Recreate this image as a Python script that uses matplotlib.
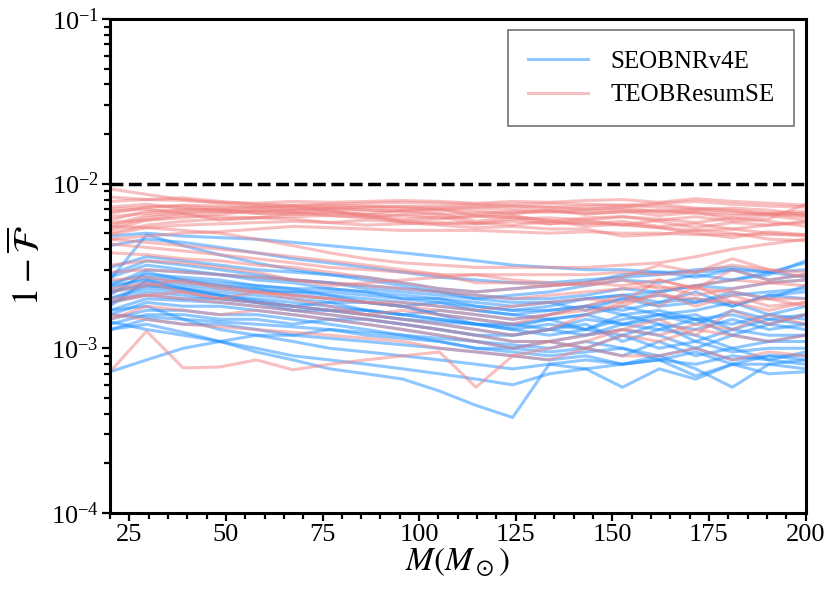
import numpy as np
import matplotlib
matplotlib.use("Agg")
import matplotlib.pyplot as plt
from matplotlib.ticker import MultipleLocator

plt.rcParams['font.family'] = 'serif'
plt.rcParams['font.serif'] = ['Liberation Serif', 'DejaVu Serif']
plt.rcParams['mathtext.fontset'] = 'stix'

# total mass grid
M = np.linspace(20, 200, 20)

# 1 - mismatch, in units of 1e-3
seob = [
    [4.8, 5.0, 4.8, 4.7, 4.6, 4.4, 4.2, 4.0, 3.8, 3.6, 3.4, 3.2, 3.1, 3.0, 3.0, 2.9, 2.9, 3.0, 2.9, 3.0],
    [4.2, 4.6, 4.4, 4.1, 3.8, 3.5, 3.3, 3.1, 2.9, 2.7, 2.6, 2.5, 2.5, 2.6, 2.7, 2.8, 3.0, 3.1, 2.9, 3.3],
    [2.6, 4.9, 4.2, 3.7, 3.3, 3.0, 2.8, 2.6, 2.4, 2.2, 2.0, 1.9, 1.9, 2.0, 2.1, 2.2, 2.4, 2.6, 2.8, 3.4],
    [2.4, 3.0, 2.9, 2.8, 2.7, 2.6, 2.5, 2.4, 2.3, 2.2, 2.1, 2.0, 2.0, 2.1, 2.3, 2.2, 2.4, 2.3, 2.5, 2.6],
    [2.3, 2.7, 2.6, 2.5, 2.4, 2.3, 2.3, 2.2, 2.1, 2.0, 1.8, 1.7, 1.7, 1.8, 2.0, 2.1, 1.9, 2.2, 2.0, 2.4],
    [2.2, 2.5, 2.4, 2.3, 2.2, 2.2, 2.1, 2.0, 1.9, 1.8, 1.7, 1.6, 1.7, 1.8, 1.7, 1.9, 2.0, 1.8, 2.1, 2.2],
    [2.1, 2.9, 2.6, 2.4, 2.3, 2.1, 2.0, 1.9, 1.8, 1.6, 1.5, 1.4, 1.5, 1.6, 1.8, 1.6, 1.7, 1.9, 1.6, 1.8],
    [2.0, 2.3, 2.2, 2.1, 2.0, 1.9, 1.8, 1.7, 1.6, 1.5, 1.4, 1.3, 1.4, 1.3, 1.5, 1.6, 1.4, 1.7, 1.5, 1.6],
    [1.9, 2.1, 2.0, 2.0, 1.9, 1.8, 1.7, 1.7, 1.6, 1.5, 1.4, 1.4, 1.3, 1.5, 1.4, 1.6, 1.5, 1.4, 1.6, 1.5],
    [1.8, 2.6, 2.3, 2.1, 1.9, 1.7, 1.6, 1.5, 1.4, 1.3, 1.2, 1.2, 1.3, 1.2, 1.4, 1.3, 1.5, 1.2, 1.4, 1.3],
    [2.5, 2.8, 2.7, 2.6, 2.4, 2.3, 2.1, 1.9, 1.8, 1.6, 1.4, 1.3, 1.2, 1.3, 1.2, 1.4, 1.1, 1.3, 1.2, 1.2],
    [2.7, 3.2, 3.0, 2.8, 2.6, 2.5, 2.3, 2.2, 2.0, 1.9, 1.7, 1.6, 1.5, 1.6, 1.4, 1.5, 1.6, 1.3, 1.5, 1.4],
    [1.6, 1.9, 1.8, 1.8, 1.7, 1.6, 1.5, 1.5, 1.4, 1.3, 1.2, 1.1, 1.1, 1.2, 1.3, 1.2, 1.0, 1.2, 1.1, 1.2],
    [1.5, 1.7, 1.7, 1.6, 1.6, 1.5, 1.4, 1.3, 1.2, 1.1, 1.0, 1.0, 1.1, 1.0, 1.2, 1.0, 1.1, 0.95, 1.0, 1.0],
    [1.4, 1.6, 1.6, 1.5, 1.5, 1.4, 1.5, 1.4, 1.3, 1.2, 1.1, 1.0, 0.95, 1.0, 0.9, 1.1, 0.9, 1.0, 0.85, 0.95],
    [1.6, 1.55, 1.5, 1.45, 1.4, 1.35, 1.3, 1.25, 1.2, 1.15, 1.1, 1.05, 1.0, 1.1, 1.0, 0.9, 1.0, 0.85, 0.9, 0.9],
    [1.7, 1.8, 1.5, 1.3, 1.2, 1.1, 1.0, 0.95, 0.9, 0.85, 0.8, 0.75, 0.8, 0.85, 0.8, 0.9, 0.75, 0.58, 0.8, 0.85],
    [0.72, 0.85, 1.0, 1.1, 1.2, 1.2, 1.15, 1.1, 1.05, 1.0, 0.95, 0.9, 0.85, 0.9, 0.8, 0.85, 0.68, 0.8, 0.8, 0.75],
    [1.45, 1.3, 1.2, 1.1, 1.0, 0.9, 0.85, 0.8, 0.75, 0.7, 0.65, 0.6, 0.7, 0.75, 0.58, 0.75, 0.65, 0.8, 0.7, 0.72],
    [1.3, 1.4, 1.25, 1.1, 0.95, 0.85, 0.75, 0.7, 0.65, 0.55, 0.45, 0.38, 0.8, 0.75, 0.8, 0.85, 0.8, 0.9, 0.85, 0.8],
    [2.8, 3.4, 3.2, 3.0, 2.8, 2.6, 2.5, 2.3, 2.2, 2.1, 2.0, 2.1, 2.2, 2.4, 2.6, 2.5, 2.8, 2.6, 2.9, 2.7],
    [3.1, 3.6, 3.4, 3.2, 3.0, 2.9, 2.8, 2.7, 2.5, 2.3, 2.2, 2.3, 2.4, 2.5, 2.8, 2.9, 2.7, 3.0, 2.6, 2.8],
    [2.2, 2.4, 2.3, 2.2, 2.1, 2.0, 1.9, 1.9, 1.8, 1.9, 1.8, 1.7, 1.8, 2.0, 2.1, 1.9, 2.2, 1.8, 2.1, 2.0],
    [1.9, 2.2, 2.1, 2.0, 1.9, 1.8, 1.9, 1.7, 1.6, 1.7, 1.6, 1.5, 1.6, 1.8, 1.6, 1.7, 1.5, 1.6, 1.4, 1.6],
    [1.7, 2.0, 1.95, 1.9, 1.8, 1.7, 1.7, 1.6, 1.5, 1.4, 1.3, 1.2, 1.3, 1.4, 1.1, 1.3, 1.2, 1.0, 1.1, 1.1],
    [2.4, 2.6, 2.5, 2.4, 2.3, 2.2, 2.2, 2.1, 2.0, 2.0, 1.9, 1.8, 1.9, 1.7, 2.0, 1.8, 1.9, 2.1, 2.2, 2.3],
    [1.3, 1.5, 1.4, 1.4, 1.3, 1.2, 1.3, 1.2, 1.15, 1.1, 1.0, 0.95, 0.9, 0.95, 1.0, 0.85, 0.95, 0.8, 0.9, 0.85],
    [2.0, 2.4, 2.3, 2.1, 1.95, 1.8, 1.7, 1.6, 1.5, 1.45, 1.4, 1.35, 1.5, 1.3, 1.6, 1.4, 1.3, 1.5, 1.3, 1.4],
]

teob = [
    [9.3, 8.6, 8.0, 7.6, 7.4, 7.3, 7.2, 7.2, 7.3, 7.3, 7.4, 7.3, 7.2, 7.3, 7.4, 7.2, 7.0, 7.1, 6.9, 6.5],
    [7.8, 8.0, 8.2, 7.8, 7.5, 7.4, 7.5, 7.6, 7.7, 7.6, 7.5, 7.5, 7.6, 7.5, 7.4, 7.6, 7.8, 7.5, 7.3, 7.2],
    [6.6, 7.2, 7.4, 7.3, 7.2, 7.0, 7.1, 7.2, 7.1, 7.0, 7.1, 7.0, 6.9, 7.0, 7.1, 6.8, 7.0, 6.8, 6.5, 6.3],
    [6.0, 6.8, 7.0, 6.9, 6.8, 6.9, 7.0, 6.9, 6.8, 6.9, 6.8, 6.6, 6.8, 6.6, 6.7, 6.9, 6.6, 6.4, 6.6, 6.8],
    [5.6, 6.4, 6.7, 6.8, 6.6, 6.5, 6.6, 6.5, 6.4, 6.2, 6.3, 6.4, 5.9, 6.2, 6.3, 6.1, 5.8, 6.2, 5.9, 5.5],
    [5.2, 6.0, 6.4, 6.3, 6.2, 6.3, 6.4, 6.3, 6.1, 6.3, 5.7, 6.1, 6.2, 6.0, 5.6, 6.0, 6.3, 5.9, 6.1, 7.5],
    [5.0, 5.6, 5.9, 6.1, 6.2, 6.1, 5.8, 6.0, 5.9, 5.7, 5.8, 5.6, 5.9, 5.7, 5.9, 5.5, 5.7, 5.3, 5.6, 5.8],
    [4.9, 5.4, 5.6, 5.7, 5.8, 5.9, 5.8, 5.6, 5.7, 5.8, 5.7, 5.9, 5.7, 5.8, 5.6, 5.4, 5.2, 5.3, 5.0, 4.8],
    [7.2, 7.5, 7.1, 6.9, 7.1, 7.3, 6.8, 6.5, 6.9, 7.0, 6.4, 6.6, 6.9, 6.5, 6.8, 6.4, 6.7, 6.1, 6.4, 6.0],
    [8.3, 8.0, 7.9, 7.7, 7.6, 7.8, 7.7, 7.8, 7.9, 7.8, 7.6, 7.8, 7.7, 7.9, 8.0, 7.7, 8.1, 7.8, 7.6, 7.4],
    [5.4, 6.2, 6.6, 6.0, 6.2, 6.6, 6.7, 6.5, 5.9, 6.1, 6.4, 6.2, 5.7, 6.0, 6.3, 5.9, 5.4, 5.8, 5.6, 5.9],
    [4.6, 4.8, 5.0, 5.1, 5.3, 5.5, 5.4, 5.3, 5.2, 5.2, 5.2, 5.1, 5.0, 5.1, 5.0, 5.0, 4.9, 4.9, 4.9, 4.9],
    [6.3, 6.6, 6.9, 7.0, 6.6, 6.7, 6.9, 6.3, 5.8, 5.6, 5.4, 5.5, 5.3, 5.3, 4.8, 4.9, 5.2, 5.0, 4.6, 4.5],
    [5.8, 6.0, 6.2, 6.5, 6.9, 6.7, 6.4, 6.2, 6.5, 6.6, 5.9, 6.3, 6.0, 5.5, 5.7, 5.4, 5.0, 4.7, 5.1, 4.9],
    [7.0, 7.2, 7.3, 7.1, 7.2, 7.3, 7.4, 7.3, 7.2, 7.1, 7.2, 7.3, 7.2, 7.0, 7.2, 7.5, 7.1, 6.9, 6.6, 6.4],
    [6.8, 7.0, 6.6, 6.7, 6.8, 7.0, 7.1, 6.9, 6.8, 6.5, 6.6, 6.8, 6.7, 6.8, 6.9, 6.7, 6.8, 6.6, 6.5, 6.6],
    [4.3, 4.1, 3.9, 3.7, 3.5, 3.3, 3.1, 3.0, 2.9, 2.8, 2.8, 2.8, 2.8, 2.8, 2.9, 2.8, 2.9, 3.2, 3.0, 2.9],
    [3.8, 3.7, 3.5, 3.4, 3.2, 3.1, 2.9, 2.7, 2.5, 2.3, 2.2, 2.3, 2.4, 2.5, 2.7, 3.2, 2.9, 3.5, 3.0, 2.7],
    [3.2, 3.4, 3.3, 3.1, 2.9, 2.6, 2.4, 2.5, 2.6, 2.7, 2.8, 2.6, 2.5, 2.4, 2.6, 2.3, 2.4, 2.6, 2.5, 2.4],
    [2.9, 3.0, 2.9, 2.8, 2.7, 2.6, 2.5, 2.4, 2.3, 2.2, 2.1, 2.0, 2.1, 2.2, 2.3, 2.4, 2.1, 2.3, 2.5, 2.6],
    [2.6, 2.7, 2.5, 2.4, 2.2, 2.1, 2.0, 1.9, 1.9, 1.8, 1.7, 1.8, 1.9, 2.0, 1.9, 2.1, 2.0, 1.9, 2.0, 2.0],
    [2.3, 2.5, 2.2, 2.0, 2.2, 2.1, 2.0, 1.9, 1.8, 1.7, 1.6, 1.5, 1.6, 1.7, 1.8, 2.2, 1.8, 2.1, 1.8, 1.9],
    [2.2, 2.4, 2.6, 2.3, 2.2, 2.0, 1.8, 1.6, 1.5, 1.4, 1.3, 1.2, 1.3, 1.6, 1.9, 2.6, 2.3, 3.0, 2.6, 2.8],
    [1.9, 2.1, 2.0, 1.9, 1.8, 1.7, 1.6, 1.5, 1.4, 1.3, 1.2, 1.1, 1.1, 1.2, 1.3, 1.2, 1.4, 1.3, 1.6, 1.4],
    [1.5, 1.8, 1.7, 1.6, 1.7, 1.6, 1.5, 1.4, 1.3, 1.2, 1.1, 1.0, 1.1, 1.0, 1.2, 1.1, 1.3, 1.2, 1.1, 1.2],
    [0.72, 1.27, 0.76, 0.77, 0.85, 0.74, 0.8, 0.85, 0.9, 0.95, 0.58, 0.9, 1.0, 1.1, 1.3, 1.5, 1.2, 1.7, 1.4, 1.6],
    [2.0, 2.1, 2.2, 2.0, 1.9, 1.8, 1.7, 1.6, 1.7, 1.6, 1.5, 1.4, 1.6, 1.8, 2.1, 1.8, 2.4, 1.9, 1.7, 1.9],
    [4.6, 4.4, 4.2, 4.0, 3.8, 3.6, 3.4, 3.2, 3.0, 2.8, 2.5, 2.5, 2.4, 2.5, 2.4, 2.6, 2.3, 2.2, 2.0, 1.8],
    [5.5, 5.4, 5.2, 5.0, 4.6, 4.2, 3.8, 3.5, 3.3, 3.2, 3.1, 3.1, 3.1, 3.1, 3.2, 3.3, 3.6, 4.0, 4.3, 4.6],
    [1.6, 1.5, 1.4, 1.35, 1.3, 1.25, 1.2, 1.15, 1.1, 1.0, 0.95, 0.9, 0.85, 1.0, 0.9, 0.9, 1.0, 0.85, 0.95, 0.9],
]

fig = plt.figure(figsize=(8.3, 5.93), dpi=100)
ax = fig.add_axes([0.1325, 0.135, 0.838, 0.833])

for i, row in enumerate(seob):
    ax.plot(M, np.array(row) * 1e-3, color='dodgerblue', alpha=0.5, lw=2.2,
            label='SEOBNRv4E' if i == 0 else None)
for i, row in enumerate(teob):
    ax.plot(M, np.array(row) * 1e-3, color='lightcoral', alpha=0.5, lw=2.2,
            label='TEOBResumSE' if i == 0 else None)

ax.axhline(1e-2, color='k', ls='--', lw=2.5)

ax.set_yscale('log')
ax.set_xlim(20, 200)
ax.set_ylim(1e-4, 1e-1)
ax.xaxis.set_major_locator(MultipleLocator(25))
ax.xaxis.set_minor_locator(MultipleLocator(5))
ax.tick_params(which='both', direction='out', width=1.6, labelsize=19, pad=2)
ax.tick_params(which='major', length=6)
ax.tick_params(which='minor', length=4)
for s in ax.spines.values():
    s.set_linewidth(2.2)

ax.set_xlabel(r'$M(M_\odot)$', fontsize=24, labelpad=0)
ax.set_ylabel(r'$1-\overline{\mathcal{F}}$', fontsize=26, labelpad=2)

leg = ax.legend(loc='upper right', fontsize=18, fancybox=False, edgecolor='0.3',
                borderpad=0.8, handlelength=2.4, handletextpad=0.9,
                labelspacing=0.45, borderaxespad=0.45)
leg.get_frame().set_linewidth(1.2)

fig.savefig('out.png', dpi=100)
